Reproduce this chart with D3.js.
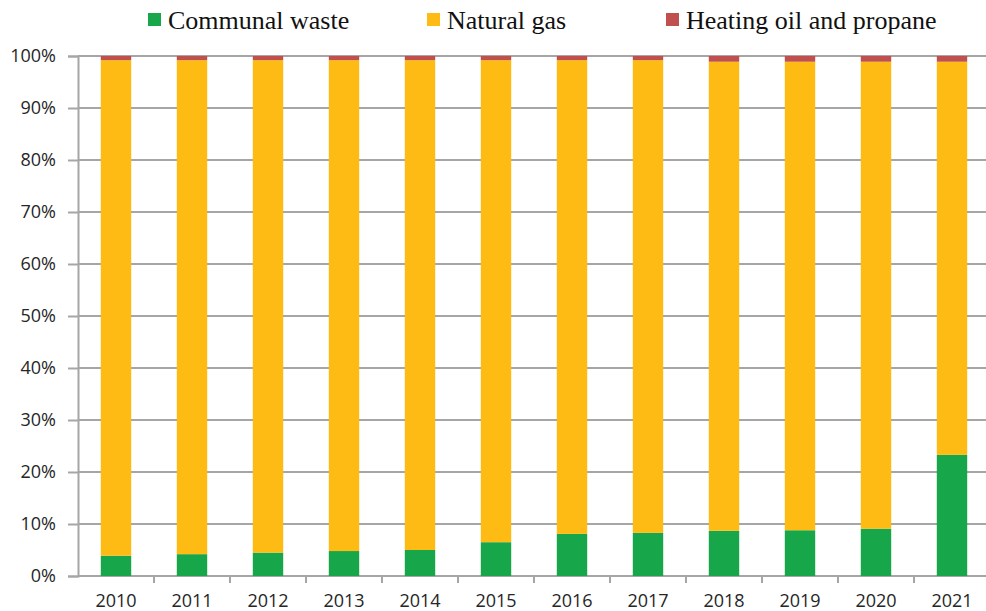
<!DOCTYPE html>
<html>
<head>
<meta charset="utf-8">
<script src="https://cdn.jsdelivr.net/npm/d3@7"></script>
<style>
  body { margin: 0; background: #fff; }
  .axis text { font-family: "Open Sans", "DejaVu Sans", sans-serif; font-size: 18px; fill: #262626; }
  .legend text { font-family: "Liberation Serif", serif; font-size: 26px; fill: #111; }
</style>
</head>
<body>
<div id="chart"></div>
<script>
// data (percent)
var years = ["2010","2011","2012","2013","2014","2015","2016","2017","2018","2019","2020","2021"];
var communalWaste = [3.9, 4.2, 4.5, 4.8, 5.0, 6.5, 8.1, 8.3, 8.7, 8.8, 9.1, 23.3];
var heatingOil = [0.8, 0.8, 0.8, 0.8, 0.8, 0.8, 0.8, 0.8, 1.1, 1.1, 1.1, 1.1];
var naturalGas = years.map(function (y, i) { return 100 - communalWaste[i] - heatingOil[i]; });
var seriesNames = ["Communal waste", "Natural gas", "Heating oil and propane"];
var yTicks = [0, 10, 20, 30, 40, 50, 60, 70, 80, 90, 100];

var colors = {"Communal waste": "#17a74a", "Natural gas": "#fdbb14", "Heating oil and propane": "#c0504d"};

// plot runs a little past the right edge, like the original
var margin = {top: 56, left: 78},
    width = 912,
    height = 520;

var table = years.map(function (y, i) {
    return {year: y, "Communal waste": communalWaste[i], "Natural gas": naturalGas[i], "Heating oil and propane": heatingOil[i]};
});

var layers = d3.stack().keys(seriesNames)(table);

var x = d3.scaleBand().domain(years).range([0, width]).paddingInner(0.6).paddingOuter(0.3);
var xb = d3.scaleBand().domain(years).range([0, width]); // tick marks at category edges
var y = d3.scaleLinear().domain([0, 100]).range([height, 0]);

var svg = d3.select("#chart").append("svg")
    .attr("width", 986)
    .attr("height", 611);

var g = svg.append("g").attr("transform", "translate(" + margin.left + "," + margin.top + ")");

// gridlines
g.append("g").selectAll("line")
    .data(yTicks)
    .enter().append("line")
    .attr("x1", 0).attr("x2", width)
    .attr("y1", function (d) { return y(d); })
    .attr("y2", function (d) { return y(d); })
    .attr("stroke", "#a6a6a6")
    .attr("stroke-width", 2);

// bars
g.selectAll(".layer")
    .data(layers)
    .enter().append("g")
    .attr("class", "layer")
    .attr("fill", function (d) { return colors[d.key]; })
    .selectAll("rect")
    .data(function (d) { return d; })
    .enter().append("rect")
    .attr("x", function (d) { return x(d.data.year); })
    .attr("width", x.bandwidth())
    .attr("y", function (d) { return y(d[1]); })
    .attr("height", function (d) { return y(d[0]) - y(d[1]); });

// y axis
var yAxis = d3.axisLeft(y).tickValues(yTicks).tickSize(10).tickPadding(12)
    .tickFormat(function (d) { return d + "%"; });
var ya = g.append("g").attr("class", "axis").call(yAxis);
ya.select(".domain").attr("stroke", "#a6a6a6").attr("stroke-width", 2);
ya.selectAll(".tick line").attr("stroke", "#a6a6a6").attr("stroke-width", 2);

// x axis
var xAxis = d3.axisBottom(x).tickSize(0).tickPadding(18);
var xa = g.append("g").attr("class", "axis")
    .attr("transform", "translate(0," + height + ")")
    .call(xAxis);
xa.select(".domain").remove();

g.append("g").selectAll("line")
    .data(years)
    .enter().append("line")
    .attr("x1", function (d) { return xb(d) + xb.bandwidth(); })
    .attr("x2", function (d) { return xb(d) + xb.bandwidth(); })
    .attr("y1", height).attr("y2", height + 7)
    .attr("stroke", "#a6a6a6")
    .attr("stroke-width", 2);

// legend
var legendX = [148, 427, 666];
var legend = svg.append("g").attr("class", "legend");
var items = legend.selectAll("g")
    .data(seriesNames)
    .enter().append("g")
    .attr("transform", function (d, i) { return "translate(" + legendX[i] + ",0)"; });
items.append("rect")
    .attr("x", 0).attr("y", 13)
    .attr("width", 13).attr("height", 13)
    .attr("fill", function (d) { return colors[d]; });
items.append("text")
    .attr("x", 20).attr("y", 29)
    .text(function (d) { return d; });
</script>
</body>
</html>
